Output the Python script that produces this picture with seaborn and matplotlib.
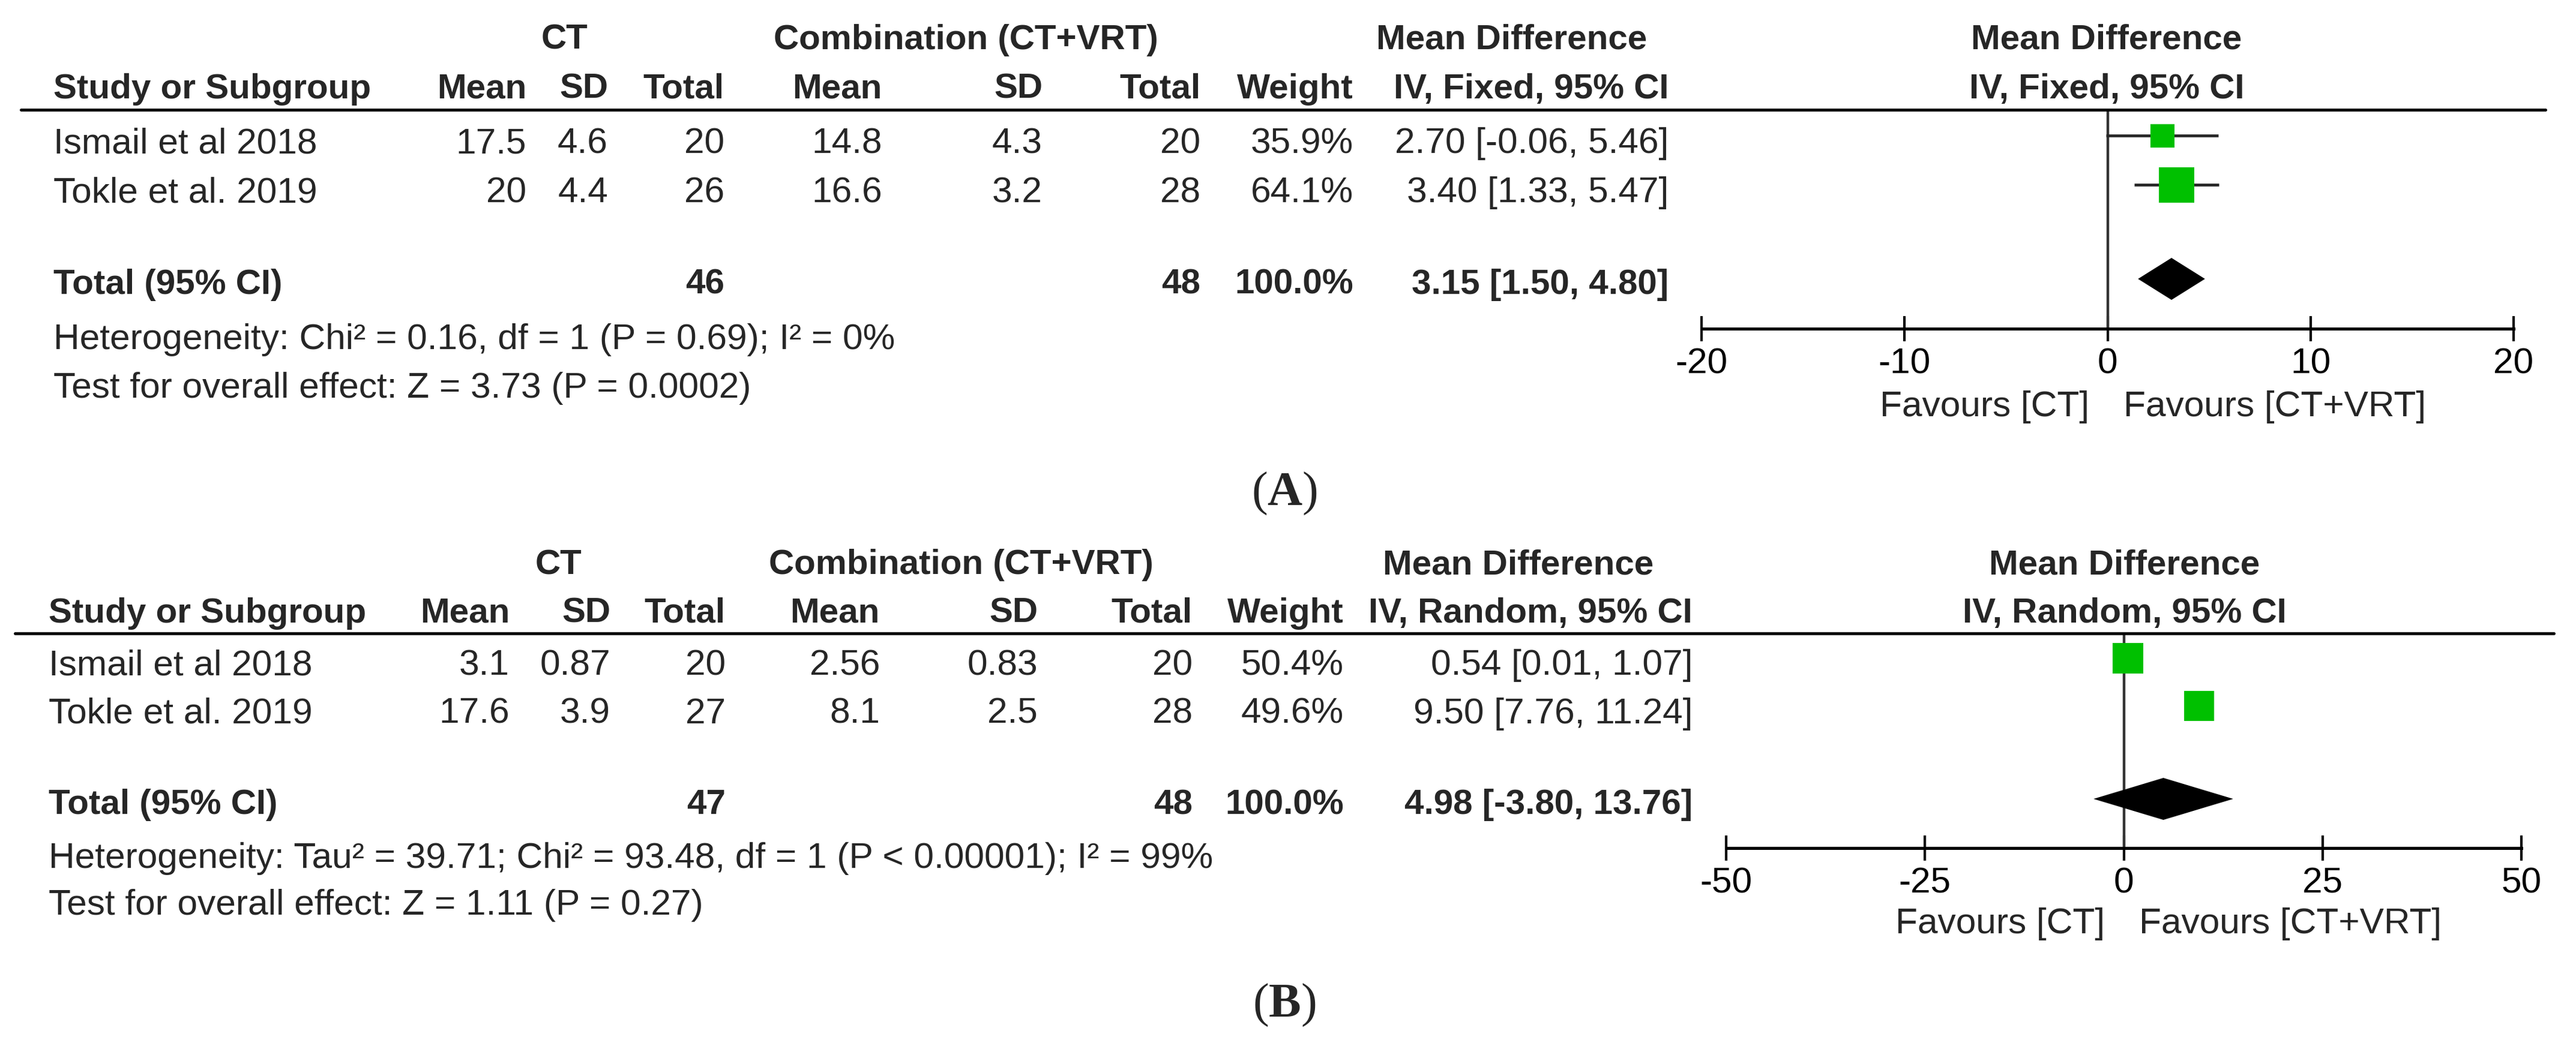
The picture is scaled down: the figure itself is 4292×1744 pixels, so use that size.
import matplotlib
matplotlib.use('Agg')
import matplotlib.pyplot as plt
import seaborn as sns

# data
studies = ['Ismail et al 2018', 'Tokle et al. 2019']

# (A) fixed effect
a_ct_mean = [17.5, 20]
a_ct_sd = [4.6, 4.4]
a_ct_n = [20, 26]
a_vrt_mean = [14.8, 16.6]
a_vrt_sd = [4.3, 3.2]
a_vrt_n = [20, 28]
a_weight = [35.9, 64.1]
a_md = [2.70, 3.40]
a_lo = [-0.06, 1.33]
a_hi = [5.46, 5.47]
a_total = [3.15, 1.50, 4.80]
a_n_total = [46, 48]
a_ticks = [-20, -10, 0, 10, 20]
a_het = 'Heterogeneity: Chi² = 0.16, df = 1 (P = 0.69); I² = 0%'
a_test = 'Test for overall effect: Z = 3.73 (P = 0.0002)'

# (B) random effects
b_ct_mean = [3.1, 17.6]
b_ct_sd = [0.87, 3.9]
b_ct_n = [20, 27]
b_vrt_mean = [2.56, 8.1]
b_vrt_sd = [0.83, 2.5]
b_vrt_n = [20, 28]
b_weight = [50.4, 49.6]
b_md = [0.54, 9.50]
b_lo = [0.01, 7.76]
b_hi = [1.07, 11.24]
b_total = [4.98, -3.80, 13.76]
b_n_total = [47, 48]
b_ticks = [-50, -25, 0, 25, 50]
b_het = 'Heterogeneity: Tau² = 39.71; Chi² = 93.48, df = 1 (P < 0.00001); I² = 99%'
b_test = 'Test for overall effect: Z = 1.11 (P = 0.27)'

sns.set_style('white')
plt.rcParams['font.family'] = ['Liberation Sans', 'DejaVu Sans']
plt.rcParams['axes.unicode_minus'] = False
plt.rcParams['mathtext.fontset'] = 'custom'
plt.rcParams['mathtext.bf'] = 'Liberation Serif:bold'

W, H = 4292, 1744
fig = plt.figure(figsize=(W / 100, H / 100), dpi=100)
FS = 43.5   # regular text
FSB = 42    # bold headers


def txt(x, y, s, ha='left', bold=False, **kw):
    fig.text(x / W, 1 - y / H, s, ha=ha, va='baseline', fontsize=FSB if bold else FS,
             fontweight='bold' if bold else 'normal', **kw)


def panel(lay, ct_mean, ct_sd, ct_n, vrt_mean, vrt_sd, vrt_n, weight, md, lo, hi,
          total, n_total, ticks, model, het, test):
    c = lay['cols']
    y = lay['y']
    # headers
    txt(lay['ct_c'], y[0], 'CT', ha='center', bold=True)
    txt(lay['comb_c'], y[0], 'Combination (CT+VRT)', ha='center', bold=True)
    txt(lay['md_c'], y[0], 'Mean Difference', ha='center', bold=True)
    txt(lay['fp_c'], y[0], 'Mean Difference', ha='center', bold=True)
    txt(lay['left'], y[1], 'Study or Subgroup', bold=True)
    heads = ['Mean', 'SD', 'Total', 'Mean', 'SD', 'Total', 'Weight', 'IV, ' + model + ', 95% CI']
    for xr, h in zip(c, heads):
        txt(xr, y[1], h, ha='right', bold=True)
    txt(lay['fp_c'], y[1], 'IV, ' + model + ', 95% CI', ha='center', bold=True)

    # rule under the header
    fig.add_artist(plt.Line2D([lay['line'][0] / W, lay['line'][1] / W],
                              [1 - lay['top'] / H, 1 - lay['top'] / H],
                              color='black', lw=3.6))

    # study rows
    for i, st in enumerate(studies):
        row = [f'{ct_mean[i]:g}', f'{ct_sd[i]:g}', f'{ct_n[i]}', f'{vrt_mean[i]:g}',
               f'{vrt_sd[i]:g}', f'{vrt_n[i]}', f'{weight[i]:.1f}%',
               f'{md[i]:.2f} [{lo[i]:.2f}, {hi[i]:.2f}]']
        txt(lay['left'], y[2 + i], st)
        for xr, v in zip(c, row):
            txt(xr, y[2 + i], v, ha='right')

    # total row
    txt(lay['left'], y[4], 'Total (95% CI)', bold=True)
    txt(c[2], y[4], str(n_total[0]), ha='right', bold=True)
    txt(c[5], y[4], str(n_total[1]), ha='right', bold=True)
    txt(c[6], y[4], '100.0%', ha='right', bold=True)
    txt(c[7], y[4], f'{total[0]:.2f} [{total[1]:.2f}, {total[2]:.2f}]', ha='right', bold=True)
    txt(lay['left'], y[5], het)
    txt(lay['left'], y[6], test)

    # forest plot
    x0, x1 = lay['fx']
    top, bot = lay['top'], lay['axis']
    ax = fig.add_axes([x0 / W, 1 - bot / H, (x1 - x0) / W, (bot - top) / H])
    ax.set_xlim(ticks[0], ticks[-1])
    ax.set_ylim(bot, top)
    ax.patch.set_alpha(0)
    for s in ['top', 'left', 'right']:
        ax.spines[s].set_visible(False)
    ax.spines['bottom'].set_linewidth(3.6)
    ax.spines['bottom'].set_color('black')
    ax.set_xticks(ticks)
    ax.set_xticklabels([str(t) for t in ticks])
    ax.set_yticks([])
    ax.tick_params(axis='x', direction='inout', length=30, width=3, pad=8,
                   labelsize=FS, colors='black', bottom=True)
    ax.axvline(0, color='#333333', lw=3.2, zorder=1)

    ys = lay['sq_y']
    ax.hlines(ys, lo, hi, color='#262626', lw=3.4, zorder=2)
    sizes = [(3.26 * w ** 0.7 * 0.72) ** 2 for w in weight]
    sns.scatterplot(x=md, y=ys, marker='s', s=sizes, color='#00C000',
                    linewidth=0, legend=False, ax=ax, zorder=3, clip_on=False)
    yd = lay['dia_y']
    ax.fill([total[1], total[0], total[2], total[0]], [yd, yd - 35, yd, yd + 35],
            color='black', lw=0, zorder=3)
    ax.set_xlabel('')
    ax.set_ylabel('')

    z = x0 + (x1 - x0) * (0 - ticks[0]) / (ticks[-1] - ticks[0])
    txt(z - 31, lay['fav'], 'Favours [CT]', ha='right')
    txt(z + 26, lay['fav'], 'Favours [CT+VRT]', ha='left')


lay_a = dict(cols=[877, 1013, 1207, 1470, 1737, 2000, 2255, 2780], left=89,
             y=[82, 164, 255, 337, 490, 582, 663], ct_c=940, comb_c=1609, md_c=2519,
             fp_c=3510, line=(35, 4241), top=183, axis=548, fx=(2835, 4188),
             sq_y=[226.5, 308.5], dia_y=465, fav=694)
lay_b = dict(cols=[849, 1017, 1209, 1466, 1729, 1987, 2239, 2820], left=81,
             y=[957, 1038, 1125, 1206, 1357, 1447, 1525], ct_c=930, comb_c=1601, md_c=2530,
             fp_c=3540, line=(25, 4255), top=1056, axis=1414, fx=(2876, 4201),
             sq_y=[1097.5, 1177], dia_y=1332, fav=1556)

panel(lay_a, a_ct_mean, a_ct_sd, a_ct_n, a_vrt_mean, a_vrt_sd, a_vrt_n, a_weight,
      a_md, a_lo, a_hi, a_total, a_n_total, a_ticks, 'Fixed', a_het, a_test)
panel(lay_b, b_ct_mean, b_ct_sd, b_ct_n, b_vrt_mean, b_vrt_sd, b_vrt_n, b_weight,
      b_md, b_lo, b_hi, b_total, b_n_total, b_ticks, 'Random', b_het, b_test)

# panel letters
fig.text(2140 / W, 1 - 842 / H, r'($\mathbf{A}$)', ha='center', va='baseline',
         fontsize=58, family='Liberation Serif')
fig.text(2140 / W, 1 - 1695 / H, r'($\mathbf{B}$)', ha='center', va='baseline',
         fontsize=58, family='Liberation Serif')

fig.savefig('out.png', dpi=100, facecolor='white')
